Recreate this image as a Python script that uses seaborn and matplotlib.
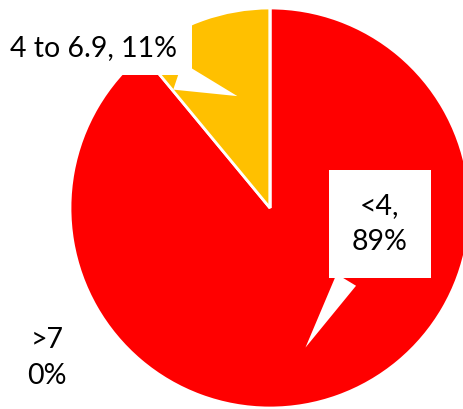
import matplotlib.pyplot as plt
import seaborn as sns

# Data
categories = ["<4", "4 to 6.9", ">7"]
shares = [89, 11, 0]
colors = ["#FF0000", "#FFC000", "#A5A5A5"]

sns.set_theme(style="white")
plt.rcParams['font.family'] = ['Lato', 'DejaVu Sans']

fig = plt.figure(figsize=(4.64, 4.09), dpi=100)
ax = fig.add_axes([0, 0, 1, 1])

wedges, _ = ax.pie(shares, colors=colors, startangle=90, counterclock=False,
                   radius=1.0, wedgeprops=dict(edgecolor="white", linewidth=2))

ax.set_xlim(-1.35, 0.97)
ax.set_ylim(-1.005, 1.04)
ax.set_aspect("equal")
ax.axis("off")

# callout labels
def callout(text, xy, xytext, pad, tail):
    ax.annotate(text, xy=xy, xytext=xytext, ha="center", va="center",
                fontsize=20.5, color="black", linespacing=1.45,
                bbox=dict(boxstyle=f"square,pad={pad}", fc="white", ec="none"),
                arrowprops=dict(arrowstyle=f"wedge,tail_width={tail},shrink_factor=0.5",
                                fc="white", ec="none"))

callout(f"{categories[0]},\n{shares[0]}%", (0.17, -0.71), (0.55, -0.08), 0.8, 0.8)
callout(f"{categories[1]}, {shares[1]}%", (-0.15, 0.555), (-0.88, 0.80), 0.5, 1.0)
ax.text(-1.115, -0.75, f"{categories[2]}\n{shares[2]}%", ha="center", va="center",
        fontsize=20.5, color="black", linespacing=1.45)

plt.savefig("out.png", dpi=100)
